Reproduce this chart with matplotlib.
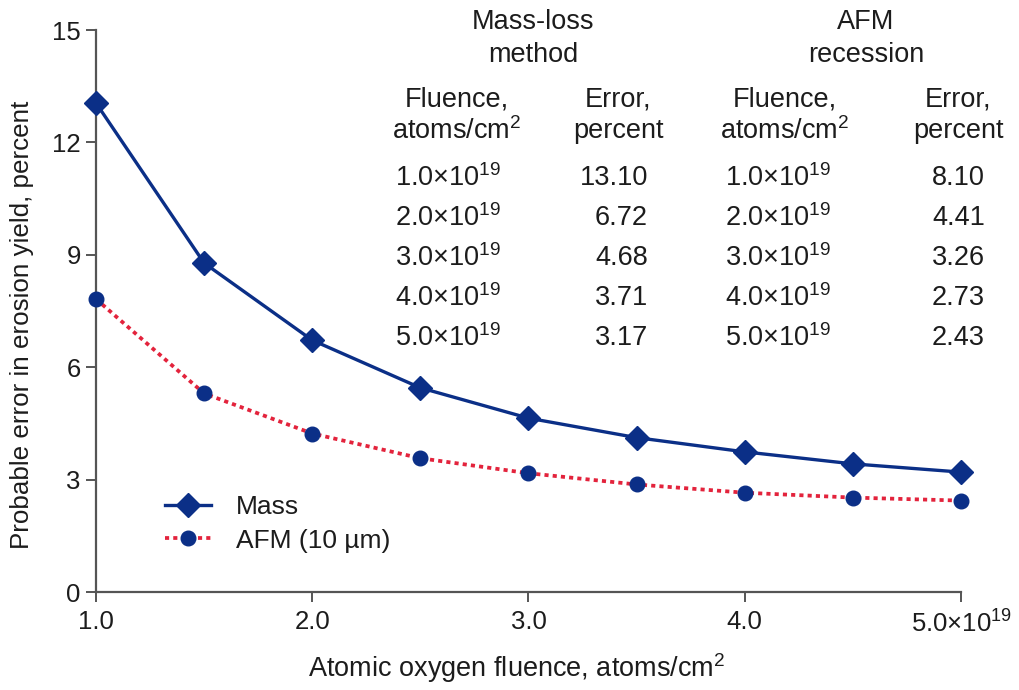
import matplotlib
matplotlib.use("Agg")
import matplotlib.pyplot as plt
from matplotlib.lines import Line2D

plt.rcParams['font.family'] = ['Liberation Sans', 'DejaVu Sans']
plt.rcParams['mathtext.fontset'] = 'custom'
plt.rcParams['mathtext.rm'] = 'Liberation Sans'
plt.rcParams['mathtext.it'] = 'Liberation Sans:italic'
plt.rcParams['mathtext.bf'] = 'Liberation Sans:bold'

# plotted curves
fluence = [1.0, 1.5, 2.0, 2.5, 3.0, 3.5, 4.0, 4.5, 5.0]
mass_err = [13.05, 8.78, 6.72, 5.45, 4.64, 4.12, 3.74, 3.42, 3.2]
afm_err = [7.82, 5.30, 4.23, 3.57, 3.17, 2.87, 2.65, 2.52, 2.44]

# inset table
table_fluence = ["1.0", "2.0", "3.0", "4.0", "5.0"]
table_mass = ["13.10", "6.72", "4.68", "3.71", "3.17"]
table_afm = ["8.10", "4.41", "3.26", "2.73", "2.43"]

x_ticks = [1.0, 2.0, 3.0, 4.0, 5.0]
x_ticklabels = ["1.0", "2.0", "3.0", "4.0", "5.0×10$^{19}$"]
y_ticks = [0, 3, 6, 9, 12, 15]

navy = '#0b2f87'
red = '#e3233c'
gray = '#555555'
txt = '#1c1c1c'

W, H = 1020, 690
fig = plt.figure(figsize=(W / 100, H / 100), dpi=100)
ax = fig.add_axes([96 / W, 1 - 592 / H, (961 - 96) / W, (592 - 30) / H])


def fx(px):
    return px / W


def fy(py):
    return 1 - py / H


# Mass curve
ax.plot(fluence, mass_err, color=navy, lw=2.4, zorder=3, clip_on=False)
ax.plot(fluence, mass_err, linestyle='none', marker='D', ms=12.5, color=navy,
        zorder=5, clip_on=False)

# AFM curve
ax.plot(fluence, afm_err, color=red, lw=2.7, linestyle=(0, (1.1, 1.1)),
        zorder=3, clip_on=False)
ax.plot(fluence, afm_err, linestyle='none', marker='o', ms=10.5, color=navy,
        zorder=5, clip_on=False)

ax.set_xlim(1.0, 5.0)
ax.set_ylim(0, 15)
ax.set_xticks(x_ticks)
ax.set_xticklabels(x_ticklabels)
ax.set_yticks(y_ticks)

for s in ['top', 'right']:
    ax.spines[s].set_visible(False)
for s in ['left', 'bottom']:
    ax.spines[s].set_color(gray)
    ax.spines[s].set_linewidth(1.6)

ax.tick_params(axis='both', colors=gray, labelcolor=txt, labelsize=18.5,
               length=7, width=1.4, direction='out')
ax.tick_params(axis='y', pad=4)
ax.tick_params(axis='x', pad=6)

fig.text(fx(22), fy(325), 'Probable error in erosion yield, percent', rotation=90,
         ha='center', va='center', fontsize=18.7, color=txt)
fig.text(fx(517), fy(668), 'Atomic oxygen fluence, atoms/cm$^2$',
         ha='center', va='center', fontsize=19.5, color=txt)

# legend
handles = [
    Line2D([], [], color=navy, lw=2.4, marker='D', ms=12.5),
    Line2D([], [], color=red, lw=2.7, linestyle=(0, (1.1, 1.1)), marker='o',
           ms=10.5, markerfacecolor=navy, markeredgecolor=navy),
]
ax.legend(handles, ['Mass', 'AFM (10 µm)'], loc='center left',
          bbox_to_anchor=((165 - 96) / 865, (592 - 524) / 562), frameon=False,
          fontsize=19, borderpad=0, borderaxespad=0, handlelength=1.75,
          handletextpad=0.95, labelspacing=0.35, labelcolor=txt)

# table headers
fs = 19.5
fig.text(fx(533), fy(22), 'Mass-loss', ha='center', va='center', fontsize=fs, color=txt)
fig.text(fx(533), fy(55), 'method', ha='center', va='center', fontsize=fs, color=txt)
fig.text(fx(866), fy(22), 'AFM', ha='center', va='center', fontsize=fs, color=txt)
fig.text(fx(866), fy(55), 'recession', ha='center', va='center', fontsize=fs, color=txt)

for cx in [457, 785]:
    fig.text(fx(cx), fy(100), 'Fluence,', ha='center', va='center', fontsize=fs, color=txt)
    fig.text(fx(cx), fy(131), 'atoms/cm$^2$', ha='center', va='center', fontsize=fs, color=txt)
for cx in [618, 958]:
    fig.text(fx(cx), fy(100), 'Error,', ha='center', va='center', fontsize=fs, color=txt)
    fig.text(fx(cx), fy(131), 'percent', ha='center', va='center', fontsize=fs, color=txt)

row_y = [178, 218, 258, 298, 338]
for i, yy in enumerate(row_y):
    lab = table_fluence[i] + '×10$^{19}$'
    fig.text(fx(395), fy(yy), lab, ha='left', va='center', fontsize=fs, color=txt)
    fig.text(fx(725), fy(yy), lab, ha='left', va='center', fontsize=fs, color=txt)
    fig.text(fx(648), fy(yy), table_mass[i], ha='right', va='center', fontsize=fs, color=txt)
    fig.text(fx(985), fy(yy), table_afm[i], ha='right', va='center', fontsize=fs, color=txt)

fig.savefig('out.png', dpi=100)
